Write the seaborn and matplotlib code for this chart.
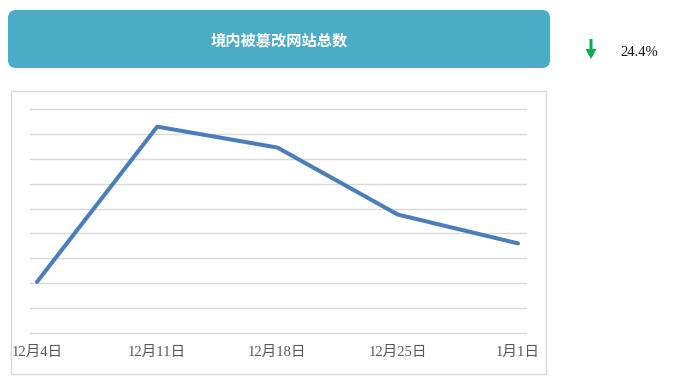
import matplotlib
matplotlib.use("Agg")
import matplotlib.pyplot as plt
from matplotlib.patches import FancyBboxPatch, Rectangle, Polygon
import seaborn as sns
import pandas as pd

# Data
dates = ["12月4日", "12月11日", "12月18日", "12月25日", "1月1日"]
values = [205, 829, 745, 476, 360]
title = "境内被篡改网站总数"
change_label = "24.4%"
yticks = list(range(0, 901, 100))

sns.set_style("white")
plt.rcParams["font.family"] = ["Liberation Serif", "Noto Sans CJK SC", "DejaVu Sans"]

W, H = 699, 382
fig = plt.figure(figsize=(W / 100, H / 100), dpi=100)
fig.patch.set_facecolor("white")

# Overlay in pixel coordinates
bg = fig.add_axes([0, 0, 1, 1], zorder=0)
bg.set_xlim(0, W)
bg.set_ylim(H, 0)
bg.axis("off")

# Header box
bg.add_patch(FancyBboxPatch((8, 10), 542, 58,
                            boxstyle="round,pad=0,rounding_size=8",
                            facecolor="#4BACC6", edgecolor="none"))
bg.text(279, 40, title, color="white", fontsize=11, fontweight="bold",
        ha="center", va="center",
        family=["Noto Sans CJK SC", "DejaVu Sans"])

# Down arrow + percent
bg.add_patch(Polygon([(589.5, 39), (592.5, 39), (592.5, 49), (596.5, 49),
                      (591, 59), (585.5, 49), (589.5, 49)],
                     closed=True, facecolor="#00B050", edgecolor="none"))
bg.text(620, 53, change_label, fontsize=10.5, color="#1a1a1a",
        ha="left", va="center", family=["Liberation Serif"])

# Chart frame
bg.add_patch(Rectangle((10.5, 90.5), 535, 283, facecolor="none",
                       edgecolor="#D9D9D9", linewidth=1))

# Main plot axes
left, right, top, bottom = 30, 526, 109, 333
ax = fig.add_axes([left / W, 1 - bottom / H, (right - left) / W, (bottom - top) / H],
                  zorder=1)
ax.set_facecolor("none")

df = pd.DataFrame({"date": dates, "value": values})
sns.lineplot(data=df, x="date", y="value", sort=False, ax=ax,
             color="#4A7EBB", linewidth=2.9, clip_on=False)

ax.set_xlim(-0.058, 4.067)
ax.set_ylim(0, 900)
ax.set_yticks(yticks)
ax.set_yticklabels([])
ax.yaxis.grid(True, color="#D9D9D9", linewidth=1)
ax.xaxis.grid(False)
for gl in ax.get_ygridlines():
    gl.set_clip_on(False)
for s in ax.spines.values():
    s.set_visible(False)
ax.tick_params(length=0, axis="both")
ax.tick_params(axis="x", pad=9, labelsize=10.5, labelcolor="#595959")
ax.set_xlabel("")
ax.set_ylabel("")
for lbl in ax.get_xticklabels():
    lbl.set_family(["Liberation Serif", "Noto Sans CJK SC"])

fig.savefig("out.png", dpi=100, facecolor="white")
